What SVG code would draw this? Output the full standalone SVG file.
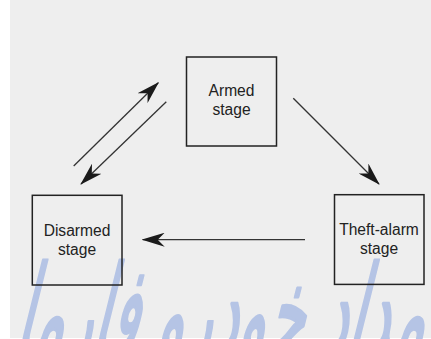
<svg xmlns="http://www.w3.org/2000/svg" width="431" height="339" viewBox="0 0 431 339">
  <style>
    .box { fill: none; stroke: #222; stroke-width: 1.5; }
    .lbl { font-family: "Liberation Sans", Arial, sans-serif; font-size: 15.6px; fill: #222; text-anchor: middle; }
    .conn { fill: none; stroke: #333; stroke-width: 1.3; marker-end: url(#head); }
    .wm { font-family: "DejaVu Sans", sans-serif; font-size: 125px; fill: #b5c4e5; stroke: #b5c4e5; stroke-width: 3; stroke-linejoin: round; }
  </style>
  <defs>
    <marker id="head" viewBox="0 0 23 14" refX="22" refY="7" markerWidth="23" markerHeight="14" orient="auto" markerUnits="userSpaceOnUse">
      <path d="M23,7 L0,0 L7,7 L0,14 Z" fill="#1a1a1a"/>
    </marker>
  </defs>
  <rect x="0" y="0" width="431" height="339" fill="#ffffff"/>
  <rect x="10" y="0" width="421" height="338" fill="#eeeeee"/>
  <text class="wm" x="102" y="355" textLength="425" lengthAdjust="spacingAndGlyphs" transform="skewX(-14)">امداد خودرو فارما</text>

  <g id="connectors">
    <path class="conn" d="M73.7,166 L158.3,82.7"/>
    <path class="conn" d="M166.3,101.7 L81,184"/>
    <path class="conn" d="M293.3,98.3 L379,184"/>
    <path class="conn" d="M305,239.7 L142.7,239.7"/>
  </g>

  <g id="armed">
    <rect class="box" x="186.5" y="57" width="90" height="89"/>
    <text class="lbl" x="231.5" y="96">Armed</text>
    <text class="lbl" x="231.5" y="115">stage</text>
  </g>
  <g id="disarmed">
    <rect class="box" x="32.3" y="195.3" width="89.7" height="89.7"/>
    <text class="lbl" x="77" y="235.5">Disarmed</text>
    <text class="lbl" x="77" y="254.5">stage</text>
  </g>
  <g id="theft-alarm">
    <rect class="box" x="334.5" y="194.7" width="89.5" height="89.7"/>
    <text class="lbl" x="379" y="234.7">Theft-alarm</text>
    <text class="lbl" x="379" y="253.7">stage</text>
  </g>
</svg>
